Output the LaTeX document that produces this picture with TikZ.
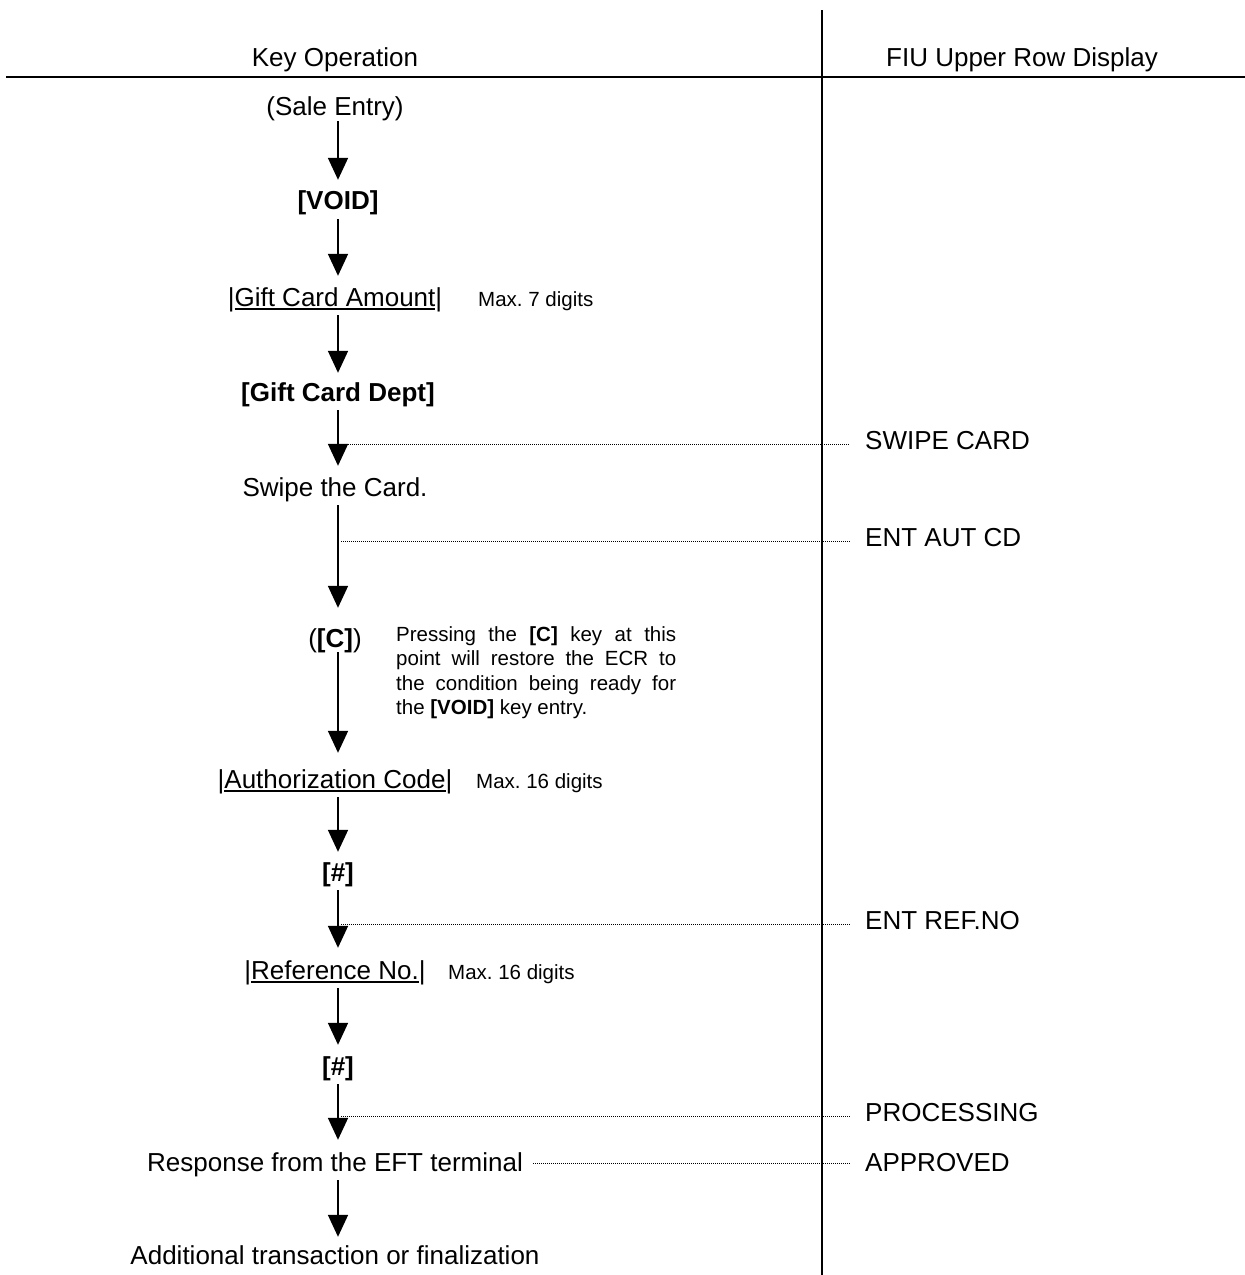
\documentclass[tikz,border=0pt]{standalone}
\usepackage{fontspec}
\setmainfont{Liberation Sans}
\usetikzlibrary{arrows.meta}
\newcommand\myul[1]{\leavevmode\setbox0\hbox{#1}\rlap{\rule[-4pt]{\wd0}{1.8pt}}\box0}
\frenchspacing
\begin{document}
\frenchspacing
\begin{tikzpicture}[x=1pt,y=-1pt,
  t/.style={inner sep=0pt, anchor=base, text height=19pt, text depth=5pt, font=\fontsize{26}{30}\selectfont\frenchspacing},
  tb/.style={t, font=\fontsize{26}{30}\selectfont\bfseries},
  ts/.style={inner sep=0pt, anchor=base west, font=\fontsize{20.5}{24.5}\selectfont\frenchspacing},
  rt/.style={inner sep=0pt, anchor=base west, text height=19pt, text depth=0pt, font=\fontsize{26}{30}\selectfont\frenchspacing},
  arr/.style={line width=1.8pt, -{Triangle[width=20pt,length=22pt]}, shorten <=4pt, shorten >=10pt},
  dot/.style={line width=1pt, dash pattern=on 1pt off 1pt}]
\useasboundingbox (0,0) rectangle (1245,1275);
% frame lines
\coordinate (hl) at (6,77);
\coordinate (hr) at (1245,77);
\coordinate (vt) at (822,10);
\coordinate (vb) at (822,1275);
\draw[line width=2.5pt] (hl) -- (hr);
\draw[line width=2pt] (vt) -- (vb);
% headers
\node[t] (hk) at (335,66) {Key Operation};
\node[t] (hf) at (1022,66) {FIU Upper Row Display};
% column
\coordinate (col) at (338,0);
\node[t] (sale) at (335,115) {(Sale Entry)};
\node[tb] (void) at (338,209) {[VOID]};
\node[t] (gca) at (335,306) {|\myul{Gift Card Amount}|};
\node[ts] (max1) at (478,306) {Max. 7 digits};
\node[tb] (gcd) at (338,401) {[Gift Card Dept]};
\node[t] (swipe) at (335,496) {Swipe the Card.};
\node[t] (cc) at (335,647) {(\textbf{[C]})};
\node[ts, anchor=base west] (note) at (396,641) {\begin{tabular}[t]{@{}l@{}}%
\makebox[280pt][s]{Pressing the \textbf{[C]} key at this}\\
\makebox[280pt][s]{point will restore the ECR to}\\
\makebox[280pt][s]{the condition being ready for}\\
the \textbf{[VOID]} key entry.\end{tabular}};
\node[t] (auth) at (335,788) {|\myul{Authorization Code}|};
\node[ts] (max2) at (476,788) {Max. 16 digits};
\node[tb] (hsa) at (338,881) {[\#]};
\node[t] (ref) at (335,979) {|\myul{Reference No.}|};
\node[ts] (max3) at (448,979) {Max. 16 digits};
\node[tb] (hsb) at (338,1075) {[\#]};
\node[t] (resp) at (335,1171) {Response from the EFT terminal};
\node[t] (add) at (335,1264) {Additional transaction or finalization};
% right column texts
\node[rt] (r1) at (865,449) {SWIPE CARD};
\node[rt] (r2) at (865,546) {ENT AUT CD};
\node[rt] (r3) at (865,929) {ENT REF.NO};
\node[rt] (r4) at (865,1121) {PROCESSING};
\node[rt] (r5) at (865,1171) {APPROVED};
% arrows
\draw[arr, shorten <=1pt] (sale.south -| col) -- (void.north -| col);
\draw[arr, shorten <=5pt, shorten >=11pt] (void.south -| col) -- (gca.north -| col);
\draw[arr, shorten >=9pt] (gca.south -| col) -- (gcd.north -| col);
\draw[arr, shorten >=11pt] (gcd.south -| col) -- (swipe.north -| col);
\draw[arr, shorten >=20pt] (swipe.south -| col) -- (cc.north -| col);
\draw[arr, shorten <=0pt, shorten >=16pt] (cc.south -| col) -- (auth.north -| col);
\draw[arr] (auth.south -| col) -- (hsa.north -| col);
\draw[arr, shorten >=12pt] (hsa.south -| col) -- (ref.north -| col);
\draw[arr, shorten >=11pt] (ref.south -| col) -- (hsb.north -| col);
\draw[arr, shorten >=12pt] (hsb.south -| col) -- (resp.north -| col);
\draw[arr, shorten >=8pt] (resp.south -| col) -- (add.north -| col);
% dotted leaders
\draw[dot] ([xshift=6pt,yshift=-5pt]col |- r1.west) -- ([xshift=-15pt,yshift=-5pt]r1.west);
\draw[dot] ([xshift=3pt,yshift=-5pt]col |- r2.west) -- ([xshift=-15pt,yshift=-5pt]r2.west);
\draw[dot] ([xshift=3pt,yshift=-5pt]col |- r3.west) -- ([xshift=-15pt,yshift=-5pt]r3.west);
\draw[dot] ([xshift=3pt,yshift=-5pt]col |- r4.west) -- ([xshift=-15pt,yshift=-5pt]r4.west);
\draw[dot] ([xshift=10pt,yshift=-2pt]resp.east |- r5.west) -- ([xshift=-15pt,yshift=-2pt]r5.west);
\end{tikzpicture}
\end{document}
